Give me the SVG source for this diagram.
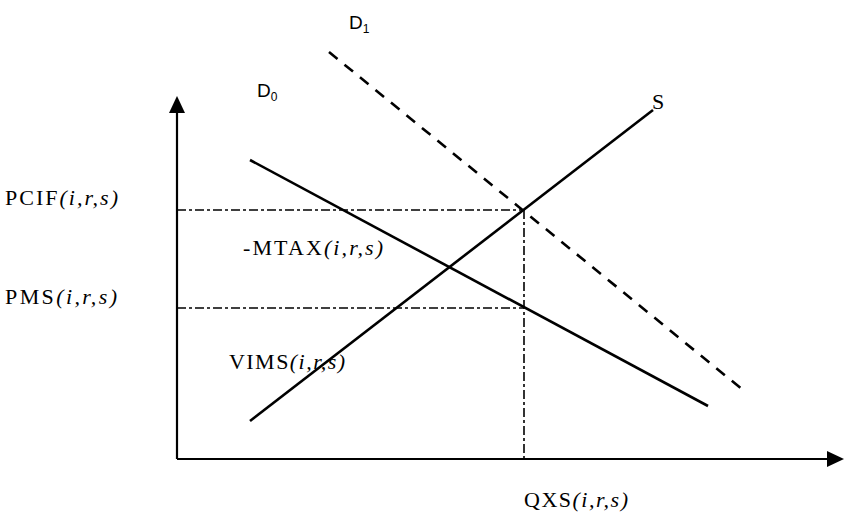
<svg xmlns="http://www.w3.org/2000/svg" width="844" height="526" viewBox="0 0 844 526">
<style>
.ax{stroke:#000;stroke-width:2.2;fill:none}
.ln{stroke:#000;stroke-width:2.6;fill:none}
.dsh{stroke:#000;stroke-width:2.6;fill:none;stroke-dasharray:11 9}
.dd{stroke:#000;stroke-width:1.6;fill:none;stroke-dasharray:9 3 3 3}
.t{font-family:"Liberation Serif",serif;font-size:22px;fill:#000}
.i{font-style:italic}
.s{font-family:"Liberation Sans",sans-serif;font-size:19px;fill:#000}
</style>
<g id="connectors">
<path class="ax" d="M177,459 V113"/>
<path d="M177,96 L169,113 L185,113 Z" fill="#000"/>
<path class="ax" d="M177,459 H828"/>
<path d="M844,459 L827,451 L827,467 Z" fill="#000"/>
<path class="dd" d="M177,210 H524"/>
<path class="dd" d="M177,308 H524"/>
<path class="dd" d="M524,210 V459"/>
<path class="ln" d="M250,160 L708,406"/>
<path class="ln" d="M250,421 L653,110"/>
<path class="dsh" d="M329,52 L743,390"/>
</g>
<g id="labels">
<text class="t" x="5" y="205" textLength="113" lengthAdjust="spacing">PCIF<tspan class="i">(i,r,s)</tspan></text>
<text class="t" x="5" y="304" textLength="112" lengthAdjust="spacing">PMS<tspan class="i">(i,r,s)</tspan></text>
<text class="t" x="243" y="255" textLength="140" lengthAdjust="spacing">-MTAX<tspan class="i">(i,r,s)</tspan></text>
<text class="t" x="229" y="369" textLength="116" lengthAdjust="spacing">VIMS<tspan class="i">(i,r,s)</tspan></text>
<text class="t" x="524" y="507" textLength="104" lengthAdjust="spacing">QXS<tspan class="i">(i,r,s)</tspan></text>
<text class="t" x="652" y="109">S</text>
<text class="s" x="349" y="29">D<tspan font-size="12" dy="4">1</tspan></text>
<text class="s" x="257" y="97">D<tspan font-size="12" dy="4">0</tspan></text>
</g>
</svg>
